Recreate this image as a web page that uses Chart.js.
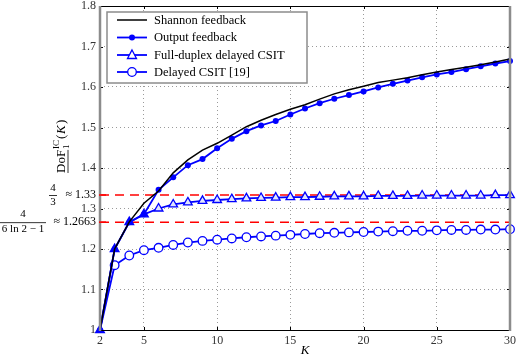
<!DOCTYPE html>
<html>
<head>
<meta charset="utf-8">
<script src="https://cdn.jsdelivr.net/npm/chart.js@4.4.0/dist/chart.umd.min.js"></script>
<style>
  html, body { margin: 0; padding: 0; background: #fff; }
  #wrap { width: 518px; height: 358px; }
</style>
</head>
<body>
<div id="wrap"><canvas id="grafico"></canvas></div>
<script>
// values
const kValues = [2, 3, 4, 5, 6, 7, 8, 9, 10, 11, 12, 13, 14, 15, 16, 17, 18, 19, 20, 21, 22, 23, 24, 25, 26, 27, 28, 29, 30];
const shannon = [1.0, 1.2, 1.267, 1.313, 1.343, 1.388, 1.420, 1.444, 1.461, 1.481, 1.502, 1.518, 1.532, 1.545, 1.556, 1.570, 1.583, 1.593, 1.602, 1.611, 1.617, 1.623, 1.630, 1.637, 1.643, 1.649, 1.655, 1.662, 1.669];
const outputFb = [1.0, 1.2, 1.2663, 1.2857, 1.346, 1.377, 1.407, 1.422, 1.449, 1.472, 1.491, 1.505, 1.516, 1.532, 1.547, 1.560, 1.571, 1.580, 1.589, 1.599, 1.608, 1.616, 1.624, 1.631, 1.637, 1.644, 1.651, 1.658, 1.664];
const fullDuplex = [1.0, 1.2, 1.2663, 1.2857, 1.300, 1.310, 1.315, 1.319, 1.321, 1.323, 1.325, 1.326, 1.327, 1.328, 1.328, 1.329, 1.330, 1.330, 1.330, 1.331, 1.331, 1.331, 1.332, 1.332, 1.332, 1.332, 1.332, 1.333, 1.333];
const delayedCsit = [1.0, 1.16, 1.184, 1.197, 1.203, 1.210, 1.216, 1.220, 1.223, 1.226, 1.229, 1.231, 1.233, 1.235, 1.237, 1.239, 1.240, 1.241, 1.242, 1.243, 1.244, 1.245, 1.245, 1.246, 1.247, 1.247, 1.248, 1.248, 1.249];
const seriesNames = ['Shannon feedback', 'Output feedback', 'Full-duplex delayed CSIT', 'Delayed CSIT [19]'];
const levelFullDuplex = 4 / 3;
const levelDelayed = 1.2663;
const xTicks = [2, 5, 10, 15, 20, 25, 30];
const yTicks = [1, 1.1, 1.2, 1.3, 1.4, 1.5, 1.6, 1.7, 1.8];

const BLUE = '#0000ff';
const SERIF = '"Liberation Serif", "DejaVu Serif", serif';

function pts(ys) {
    return kValues.map((k, i) => ({ x: k, y: ys[i] }));
}
function hline(v) {
    return [{ x: kValues[0], y: v }, { x: kValues[kValues.length - 1], y: v }];
}

// frame, inner ticks, legend, special labels
const extras = {
    id: 'extras',
    afterDraw(chart) {
        const c = chart.ctx;
        const a = chart.chartArea;
        const xs = chart.scales.x, ys = chart.scales.y;
        c.save();
        // small inward ticks
        c.strokeStyle = '#000';
        c.lineWidth = 1;
        c.beginPath();
        yTicks.forEach(v => {
            const y = Math.round(ys.getPixelForValue(v)) + 0.5;
            c.moveTo(a.left, y); c.lineTo(a.left + 3, y);
            c.moveTo(a.right, y); c.lineTo(a.right - 3, y);
        });
        xTicks.forEach(v => {
            const x = Math.round(xs.getPixelForValue(v)) + 0.5;
            c.moveTo(x, a.bottom); c.lineTo(x, a.bottom - 3);
            c.moveTo(x, a.top); c.lineTo(x, a.top + 3);
        });
        c.stroke();
        // frame
        c.strokeStyle = '#000';
        c.beginPath();
        c.moveTo(a.left, a.top + 0.5); c.lineTo(a.right, a.top + 0.5);
        c.moveTo(a.left, a.bottom + 0.5); c.lineTo(a.right, a.bottom + 0.5);
        c.stroke();
        c.strokeStyle = '#8c8c8c';
        c.lineWidth = 2.5;
        c.beginPath();
        c.moveTo(a.left, a.top); c.lineTo(a.left, a.bottom + 1);
        c.moveTo(a.right, a.top); c.lineTo(a.right, a.bottom + 1);
        c.stroke();

        // red limit marks over the left axis
        c.strokeStyle = '#ff0000';
        c.lineWidth = 1.5;
        [levelFullDuplex, levelDelayed].forEach(v => {
            const y = ys.getPixelForValue(v);
            c.beginPath(); c.moveTo(a.left - 1, y); c.lineTo(a.left + 6, y); c.stroke();
        });

        // legend
        const lx = 107, ly = 12, lw = 200, lh = 71;
        c.fillStyle = '#fff';
        c.fillRect(lx, ly, lw, lh);
        c.strokeStyle = '#8c8c8c';
        c.lineWidth = 1.5;
        c.strokeRect(lx, ly, lw, lh);
        const rows = [20, 37.5, 55, 72];
        const styles = chart.data.datasets.slice(0, 4);
        c.font = '12.5px ' + SERIF;
        c.textBaseline = 'middle';
        rows.forEach((ry, i) => {
            const ds = styles[i];
            c.strokeStyle = ds.borderColor;
            c.lineWidth = ds.borderWidth;
            c.beginPath(); c.moveTo(117, ry); c.lineTo(147, ry); c.stroke();
            if (i === 1) {
                c.fillStyle = BLUE;
                c.beginPath(); c.arc(132, ry, 3, 0, Math.PI * 2); c.fill();
            } else if (i === 2) {
                c.fillStyle = '#fff';
                c.strokeStyle = BLUE; c.lineWidth = 1.3;
                c.beginPath(); c.moveTo(132, ry - 5); c.lineTo(136.5, ry + 3.5); c.lineTo(127.5, ry + 3.5); c.closePath();
                c.fill(); c.stroke();
            } else if (i === 3) {
                c.fillStyle = '#fff';
                c.strokeStyle = BLUE; c.lineWidth = 1.3;
                c.beginPath(); c.arc(132, ry, 4.3, 0, Math.PI * 2); c.fill(); c.stroke();
            }
            c.fillStyle = '#000';
            c.textAlign = 'left';
            c.fillText(seriesNames[i], 154, ry + 0.5);
        });

        // special y labels
        c.fillStyle = '#000';
        c.strokeStyle = '#000';
        c.lineWidth = 0.8;
        const yFD = ys.getPixelForValue(levelFullDuplex);
        const yDL = ys.getPixelForValue(levelDelayed);
        c.font = '12px ' + SERIF;
        c.textAlign = 'right';
        c.fillText('\u2248 1.33', 96, yFD);
        c.fillText('\u2248 1.2663', 96, yDL);
        c.font = '11px ' + SERIF;
        c.textAlign = 'center';
        c.fillText('4', 53, yFD - 7);
        c.fillText('3', 53, yFD + 7);
        c.beginPath(); c.moveTo(49, yFD + 0.5); c.lineTo(57, yFD + 0.5); c.stroke();
        c.fillText('4', 23, yDL - 8);
        c.fillText('6 ln 2 \u2212 1', 23, yDL + 7);
        c.beginPath(); c.moveTo(0, yDL + 0.5); c.lineTo(46, yDL + 0.5); c.stroke();

        // y axis title
        c.translate(61, 146);
        c.rotate(-Math.PI / 2);
        c.textBaseline = 'alphabetic';
        c.textAlign = 'left';
        c.font = '13px ' + SERIF;
        const x0 = -27;
        c.fillText('DoF', x0, 4);
        const wD = c.measureText('DoF').width;
        c.lineWidth = 0.8;
        c.beginPath(); c.moveTo(x0, 7); c.lineTo(x0 + wD, 7); c.stroke();
        c.font = '9px ' + SERIF;
        c.fillText('IC', x0 + wD + 1, -2);
        c.fillText('1', x0 + wD + 1, 8);
        c.font = '13px ' + SERIF;
        c.fillText('(', x0 + wD + 11, 4);
        c.font = 'italic 13px ' + SERIF;
        c.fillText('K', x0 + wD + 16, 4);
        c.font = '13px ' + SERIF;
        c.fillText(')', x0 + wD + 26, 4);
        c.restore();

        // x axis title
        c.save();
        c.fillStyle = '#000';
        c.font = 'italic 13px ' + SERIF;
        c.textAlign = 'center';
        c.textBaseline = 'middle';
        c.fillText('K', 305, 351);
        c.restore();
    }
};

const ctx = document.getElementById('grafico').getContext('2d');

const grafico = new Chart(ctx, {
    type: 'line',
    data: {
        datasets: [
            {
                label: seriesNames[0],
                data: pts(shannon),
                borderColor: '#000',
                borderWidth: 1.5,
                pointRadius: 0,
                tension: 0
            },
            {
                label: seriesNames[1],
                data: pts(outputFb),
                borderColor: BLUE,
                backgroundColor: BLUE,
                borderWidth: 1.8,
                pointRadius: 3,
                pointBorderWidth: 0,
                pointBackgroundColor: BLUE,
                tension: 0
            },
            {
                label: seriesNames[2],
                data: pts(fullDuplex),
                borderColor: BLUE,
                borderWidth: 1.8,
                pointStyle: 'triangle',
                pointRadius: 5,
                pointBorderWidth: 1.3,
                pointBorderColor: BLUE,
                pointBackgroundColor: kValues.map(k => k <= 5 ? BLUE : '#dfe4ff'),
                tension: 0
            },
            {
                label: seriesNames[3],
                data: pts(delayedCsit),
                borderColor: BLUE,
                borderWidth: 1.8,
                pointRadius: kValues.map(k => k === 2 ? 0 : 4.3),
                pointBorderWidth: 1.3,
                pointBorderColor: BLUE,
                pointBackgroundColor: '#fff',
                tension: 0
            },
            {
                label: 'limit 4/3',
                data: hline(levelFullDuplex),
                borderColor: '#ff0000',
                borderWidth: 1.5,
                borderDash: [9, 6],
                pointRadius: 0
            },
            {
                label: 'limit delayed',
                data: hline(levelDelayed),
                borderColor: '#ff0000',
                borderWidth: 1.5,
                borderDash: [9, 6],
                pointRadius: 0
            }
        ]
    },
    options: {
        responsive: true,
        maintainAspectRatio: false,
        animation: false,
        layout: { autoPadding: false, padding: { top: 6, right: 8, left: 0, bottom: 0 } },
        plugins: {
            legend: { display: false },
            tooltip: { enabled: false }
        },
        datasets: { line: { clip: false } },
        scales: {
            x: {
                type: 'linear',
                min: 2,
                max: 30,
                afterBuildTicks: s => { s.ticks = xTicks.map(v => ({ value: v })); },
                afterFit: s => { s.height = 28; s.paddingLeft = 0; s.paddingRight = 0; },
                border: { display: false, dash: [1, 3] },
                grid: { drawTicks: false, color: '#9a9a9a' },
                ticks: {
                    padding: 4,
                    color: '#333',
                    font: { family: SERIF, size: 12 },
                    maxRotation: 0
                }
            },
            y: {
                min: 1,
                max: 1.8,
                afterBuildTicks: s => { s.ticks = yTicks.map(v => ({ value: v })); },
                afterFit: s => { s.width = 100; s.paddingTop = 0; s.paddingBottom = 0; },
                border: { display: false, dash: [1, 3] },
                grid: { drawTicks: false, color: '#9a9a9a' },
                ticks: {
                    padding: 4,
                    color: '#333',
                    font: { family: SERIF, size: 12 },
                    callback: v => String(Math.round(v * 10) / 10)
                }
            }
        }
    },
    plugins: [extras]
});
</script>
</body>
</html>
